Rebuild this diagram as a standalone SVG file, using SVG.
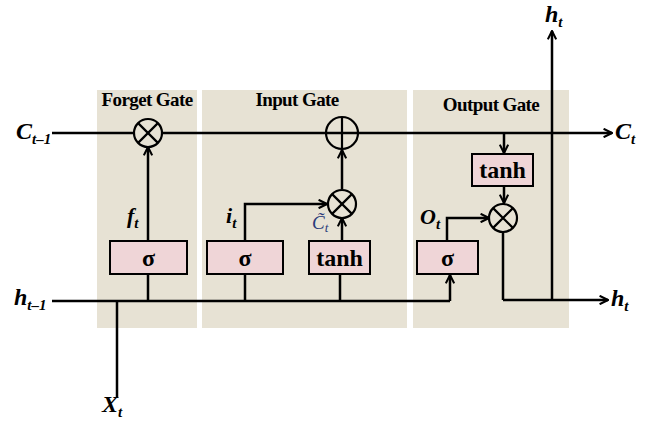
<svg xmlns="http://www.w3.org/2000/svg" width="646" height="428" viewBox="0 0 646 428">
<style>
.bg{fill:#e7e2d4}
.box{fill:#efd5d7;stroke:#000;stroke-width:2}
.ln{fill:none;stroke:#000;stroke-width:2.5}
.arr{fill:none;stroke:#000;stroke-width:2.5;marker-end:url(#ah)}
.op{fill:none;stroke:#000;stroke-width:2.2}
.gt{font-family:"Liberation Serif",serif;font-weight:bold;font-size:19px;text-anchor:middle;letter-spacing:-0.6px}
.bt{font-family:"Liberation Serif",serif;font-weight:bold;font-size:24px;text-anchor:middle}
.v{font-family:"Liberation Serif",serif;font-weight:bold;font-style:italic;font-size:24px}
.s{font-size:15px}
</style>
<defs>
<marker id="ah" viewBox="0 0 10 10" refX="9" refY="5" markerWidth="4.2" markerHeight="4.2" orient="auto" markerUnits="strokeWidth">
<path d="M1,1 L9,5 L1,9" fill="none" stroke="#000" stroke-width="2"/>
</marker>
</defs>
<g id="gates">
<rect class="bg" x="97" y="90" width="100" height="238"/>
<rect class="bg" x="202" y="90" width="205" height="238"/>
<rect class="bg" x="413" y="90" width="156" height="238"/>
<text class="gt" x="147" y="106">Forget Gate</text>
<text class="gt" x="297" y="106">Input Gate</text>
<text class="gt" x="491" y="111">Output Gate</text>
</g>
<g id="connectors">
<path class="ln" d="M52,133 H134"/>
<path class="arr" d="M162,133 H612"/>
<path class="arr" d="M148,241 V147"/>
<path class="ln" d="M52,301 H450 M148,274 V301 M245,274 V301 M340,274 V301 M117,301 V398"/>
<path class="arr" d="M450,301 V275"/>
<path class="arr" d="M245,241 V204 H327"/>
<path class="arr" d="M342,241 V218"/>
<path class="arr" d="M342,189 V150"/>
<path class="arr" d="M504,133 V153"/>
<path class="arr" d="M504,186 V203"/>
<path class="arr" d="M447,241 V218 H489"/>
<path class="ln" d="M503,232 V300"/>
<path class="arr" d="M503,300 H608"/>
<path class="arr" d="M552,300 V31"/>
</g>
<g id="forget_mul">
<circle class="op" cx="148" cy="133" r="14"/>
<path class="op" d="M138.1,123.1 L157.9,142.9 M157.9,123.1 L138.1,142.9"/>
</g>
<g id="forget_sigma">
<rect class="box" x="110" y="241" width="77" height="33"/>
<text class="bt" x="148.5" y="266">σ</text>
</g>
<g id="input_sigma">
<rect class="box" x="207" y="241" width="76" height="33"/>
<text class="bt" x="245" y="266">σ</text>
</g>
<g id="input_tanh">
<rect class="box" x="309" y="241" width="61" height="33"/>
<text class="bt" x="339.5" y="266">tanh</text>
</g>
<g id="input_mul">
<circle class="op" cx="342" cy="204" r="14"/>
<path class="op" d="M332.1,194.1 L351.9,213.9 M351.9,194.1 L332.1,213.9"/>
</g>
<g id="add">
<circle class="op" cx="342" cy="133" r="16"/>
<path class="op" d="M326,133 H358 M342,117 V149"/>
</g>
<g id="output_tanh">
<rect class="box" x="472" y="154" width="61" height="32"/>
<text class="bt" x="502.5" y="178">tanh</text>
</g>
<g id="output_sigma">
<rect class="box" x="417" y="241" width="61" height="33"/>
<text class="bt" x="447.5" y="266">σ</text>
</g>
<g id="output_mul">
<circle class="op" cx="503" cy="218" r="14"/>
<path class="op" d="M493.1,208.1 L512.9,227.9 M512.9,208.1 L493.1,227.9"/>
</g>
<g id="labels">
<text class="v" x="16" y="139">C<tspan class="s" dy="5">t–1</tspan></text>
<text class="v" x="14" y="305">h<tspan class="s" dy="5">t–1</tspan></text>
<text class="v" x="615" y="139">C<tspan class="s" dy="5">t</tspan></text>
<text class="v" x="611" y="306">h<tspan class="s" dy="5">t</tspan></text>
<text class="v" x="545" y="22">h<tspan class="s" dy="5">t</tspan></text>
<text class="v" x="102" y="412">X<tspan class="s" dy="5">t</tspan></text>
<text class="v" x="127" y="223" style="font-size:22px">f<tspan class="s" dy="5">t</tspan></text>
<text class="v" x="226" y="223" style="font-size:22px">i<tspan class="s" dy="5">t</tspan></text>
<text class="v" x="420" y="224" style="font-size:22px">O<tspan class="s" dy="5">t</tspan></text>
<text x="312" y="229" style="font-family:'Liberation Serif',serif;font-style:italic;font-size:19px;fill:#2a3a7a">C̃<tspan dy="3" style="font-size:13px">t</tspan></text>
</g>
</svg>
